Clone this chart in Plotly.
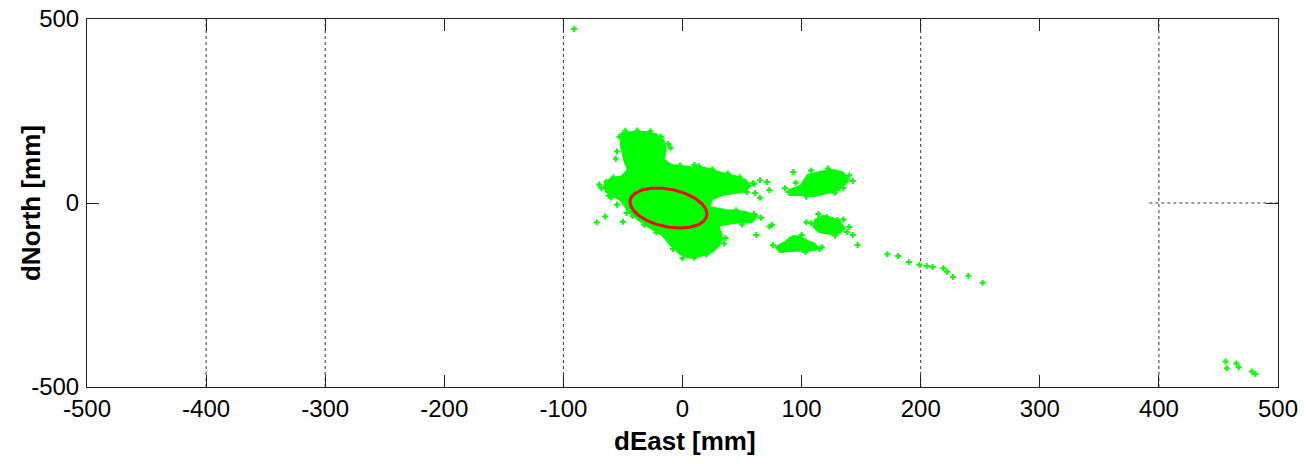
import numpy as np
import plotly.graph_objects as go

# ---- data (mm) ----
# dense regions of the green point cloud, outlined as polygons (dEast, dNorth)
main_e = [-66, -61, -51, -46, -49, -52, -51, -42, -31, -22, -16, -14, -16, -9, 6, 19, 31, 44, 53, 57, 50, 36, 25, 22,
          36, 52, 63, 58, 44, 30, 33, 31, 25, 15, 6, -2, -10, -17, -27, -37, -46, -52, -64]
main_n = [49, 65, 73, 90, 117, 158, 190, 193, 193, 187, 171, 144, 117, 103, 98, 95, 84, 73, 62, 46, 30, 24, 11, -11,
          -19, -24, -35, -52, -54, -62, -87, -114, -133, -144, -149, -139, -114, -87, -68, -46, -19, 8, 30]
clA_e = [89, 99, 105, 115, 126, 134, 139, 136, 131, 120, 111, 99, 90]
clA_n = [35, 46, 76, 84, 90, 84, 68, 49, 35, 27, 19, 22, 22]
clB_e = [78, 86, 93, 99, 105, 111, 114, 107, 94, 82]
clB_n = [-120, -106, -90, -92, -103, -111, -125, -130, -130, -133]
clC_e = [111, 118, 126, 132, 136, 132, 124, 115, 110]
clC_n = [-46, -35, -41, -52, -68, -82, -84, -79, -65]

# sparse individual points
pts_e = [-91, -72, -65, -50, -47, -64, 10, -14, 59, 65, 71, 73, 73, 62, 50, 54, 61, 65, 75, 31, 10,
         104, 113, 121, 130, 138, 143, 147, 138, 135, 93, 89, 115,
         172, 181, 190, 199, 205, 210, 219, 222, 227, 240, 252,
         456, 457, 465, 467, 478, 481]
pts_n = [473, -52, -37, -51, -27, 58, 103, 109, 54, 62, 57, 35, -64, -87, 57, 30, 27, 14, -60, -100, -149,
         -52, -68, -38, -46, -79, -87, -114, 62, 41, 84, 30, -125,
         -139, -144, -160, -168, -171, -174, -177, -187, -201, -198, -217,
         -431, -449, -436, -446, -458, -465]

# points on the ragged edges of the dense regions
edge_e = [-53, -48, -38, -27, -18, -12, -10, -20, -55, -56, -70, -68, -58, -62,
          -2, 14, 25, 38, 48, 60, 45, 60, 66, 50, 36, 35, 20, 0, -8, -22, -32, -42, -55, -60,
          86, 95, 108, 122, 140, 143, 128, 104, 76, 84, 90, 100, 117, 103, 108, 114, 135, 140, 128]
edge_n = [180, 196, 197, 195, 180, 160, 150, 125, 140, 120, 50, 40, 70, 20,
          102, 100, 92, 80, 70, 52, -20, -30, -40, -58, -95, -110, -140, -150, -125, -80, -60, -35, -5, 15,
          40, 55, 88, 94, 75, 60, 28, 17, -115, -127, -100, -87, -120, -133, -55, -30, -45, -65, -88]

# error ellipse parameters (mm)
ell_center = (-11.8, -13.6)
ell_a, ell_h, ell_b = 30.8, -9.7, 54.3

x_ticks = [-500, -400, -300, -200, -100, 0, 100, 200, 300, 400, 500]
y_ticks = [-500, 0, 500]
grid_x = [-400, -300, -100, 200, 400]
grid_y0_from = 392

GREEN = "#00ff00"
RED = "#ff0000"
FONT = "Liberation Sans, Arial, sans-serif"

fig = go.Figure()
for ex, ny in [(main_e, main_n), (clA_e, clA_n), (clB_e, clB_n), (clC_e, clC_n)]:
    fig.add_trace(go.Scatter(x=ex + [ex[0]], y=ny + [ny[0]], mode="lines", fill="toself",
                             fillcolor=GREEN, line=dict(color=GREEN, width=2), hoverinfo="skip"))
fig.add_trace(go.Scatter(x=edge_e + pts_e, y=edge_n + pts_n, mode="markers",
                         marker=dict(symbol="cross", size=5, color=GREEN, line=dict(width=0))))
t = np.linspace(0, 2 * np.pi, 200)
fig.add_trace(go.Scatter(x=ell_center[0] + ell_a * np.cos(t) + ell_h * np.sin(t),
                         y=ell_center[1] + ell_b * np.sin(t), mode="lines",
                         line=dict(color=RED, width=3)))

for gx in grid_x:
    fig.add_shape(type="line", x0=gx, x1=gx, y0=-500, y1=500, layer="below",
                  line=dict(color="#333333", width=1, dash="dot"))
fig.add_shape(type="line", x0=grid_y0_from, x1=500, y0=0, y1=0, layer="below",
              line=dict(color="#333333", width=1, dash="dot"))

axis_common = dict(showgrid=False, zeroline=False, showline=True, linecolor="#222222", linewidth=1,
                   mirror="allticks", ticks="inside", ticklen=12, tickcolor="#222222", automargin=False,
                   tickfont=dict(family=FONT, size=24, color="black"))
fig.update_xaxes(range=[-500, 500], tickvals=x_ticks, ticktext=[str(v) for v in x_ticks], **axis_common)
fig.update_yaxes(range=[-500, 500], tickvals=y_ticks, ticktext=[str(v) for v in y_ticks],
                 ticklabelstandoff=2, **axis_common)

fig.add_annotation(text="dEast [mm]", xref="paper", yref="paper", x=0.502, y=-0.147,
                   xanchor="center", yanchor="middle", showarrow=False,
                   font=dict(family=FONT, size=26, color="black", weight="bold"))
fig.add_annotation(text="dNorth [mm]", xref="paper", yref="paper", x=-0.047, y=0.5,
                   xanchor="center", yanchor="middle", showarrow=False, textangle=-90,
                   font=dict(family=FONT, size=26, color="black", weight="bold"))

fig.update_layout(width=1310, height=464, margin=dict(l=87, r=32, t=19, b=77),
                  plot_bgcolor="white", paper_bgcolor="white", showlegend=False)
fig.write_html("out.html")
